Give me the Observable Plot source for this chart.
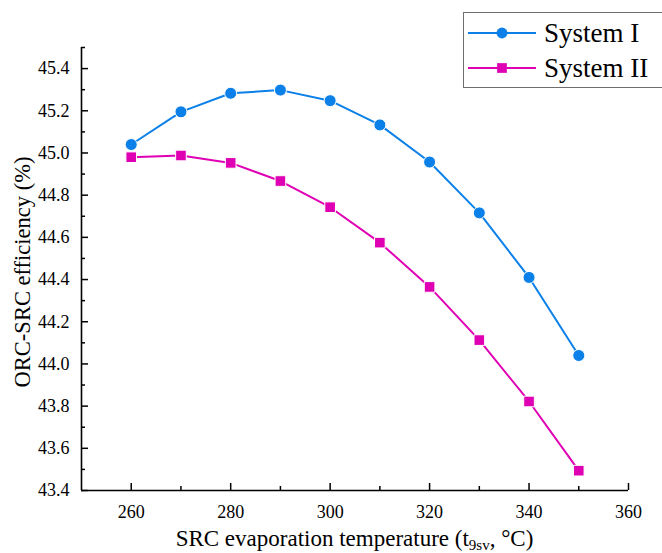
<!DOCTYPE html>
<html>
<head>
<meta charset="utf-8">
<script src="https://cdn.jsdelivr.net/npm/d3@7"></script>
<script src="https://cdn.jsdelivr.net/npm/@observablehq/plot@0.6"></script>
<style>
  html, body { margin: 0; padding: 0; background: #fff; overflow: hidden; }
  #wrap { position: relative; width: 662px; height: 553px; }
  #legend { position: absolute; left: 463px; top: 12px; width: 215px; height: 76px;
            border: 1px solid #6e6e6e; background: #fff; box-sizing: border-box; }
</style>
</head>
<body>
<div id="wrap"></div>
<script>
// ---- data ----
const temps = [260, 270, 280, 290, 300, 310, 320, 330, 340, 350];
const systemI = [45.04, 45.195, 45.283, 45.298, 45.248, 45.133, 44.957, 44.716, 44.41, 44.04];
const systemII = [44.98, 44.988, 44.953, 44.867, 44.743, 44.575, 44.365, 44.113, 43.822, 43.494];
const seriesNames = ["System I", "System II"];
const xMajorTicks = [260, 280, 300, 320, 340, 360];
const xMinorTicks = [270, 290, 310, 330, 350];
const yMajorTicks = [43.4, 43.6, 43.8, 44.0, 44.2, 44.4, 44.6, 44.8, 45.0, 45.2, 45.4];
const yMinorTicks = [43.5, 43.7, 43.9, 44.1, 44.3, 44.5, 44.7, 44.9, 45.1, 45.3, 45.5];
const xDomain = [250, 360];
const yDomain = [43.4, 45.5];
const yTitle = "ORC-SRC efficiency (%)";
const xTitleParts = ["SRC evaporation temperature (t", "9sv", ", °C)"];

// ---- styles ----
const colors = ["#0a80e8", "#e000b4"];
const symbols = ["circle", "square"];
const font = "'Liberation Serif', 'Times New Roman', serif";

const values = [systemI, systemII];
const rows = seriesNames.flatMap((s, k) => temps.map((t, i) => ({series: s, t, v: values[k][i]})));

const W = 662, H = 553;
const mL = 81, mR = 34, mT = 47, mB = 63;

const plot = Plot.plot({
  width: W, height: H,
  marginLeft: mL, marginRight: mR, marginTop: mT, marginBottom: mB,
  x: {domain: xDomain},
  y: {domain: yDomain},
  color: {domain: seriesNames, range: colors},
  symbol: {domain: seriesNames, range: symbols},
  style: {fontFamily: font, fontSize: "18px", color: "#000", background: "#fff"},
  marks: [
    Plot.axisX(xMajorTicks, {tickSize: -7, tickFormat: () => "", label: null, strokeWidth: 1.5}),
    Plot.axisX(xMinorTicks, {tickSize: -4, tickFormat: () => "", label: null, strokeWidth: 1.5}),
    Plot.axisX(xMajorTicks, {tickSize: 0, tickPadding: 15, label: null, fontSize: 18}),
    Plot.axisY(yMajorTicks, {tickSize: -7, tickFormat: () => "", label: null, strokeWidth: 1.5}),
    Plot.axisY(yMinorTicks, {tickSize: -4, tickFormat: () => "", label: null, strokeWidth: 1.5}),
    Plot.axisY(yMajorTicks, {tickSize: 0, tickPadding: 12, tickFormat: d3.format(".1f"), label: null, fontSize: 18}),
    Plot.ruleX([xDomain[0]], {stroke: "#000", strokeWidth: 1.6}),
    Plot.ruleY([yDomain[0]], {stroke: "#000", strokeWidth: 1.6}),
    Plot.line(rows, {x: "t", y: "v", z: "series", stroke: "series", strokeWidth: 2}),
    Plot.dot(rows, {x: "t", y: "v", symbol: "series", fill: "series", stroke: "#fff", strokeWidth: 1, r: 6})
  ]
});

const wrap = document.getElementById("wrap");
wrap.appendChild(plot);

const svg = d3.select(plot);
svg.selectAll("text, g").style("font-family", font);

// axis titles
svg.append("text")
  .attr("transform", `translate(30,272) rotate(-90)`)
  .attr("text-anchor", "middle")
  .style("font-family", font).style("font-size", "22.5px").attr("fill", "#000")
  .text(yTitle);
const xt = svg.append("text")
  .attr("x", (mL + W - mR) / 2).attr("y", 546)
  .attr("text-anchor", "middle")
  .style("font-family", font).style("font-size", "23px").attr("fill", "#000");
xt.append("tspan").text(xTitleParts[0]);
xt.append("tspan").attr("dy", 4).style("font-size", "15px").text(xTitleParts[1]);
xt.append("tspan").attr("dy", -4).text(xTitleParts[2]);

// legend
const leg = document.createElement("div");
leg.id = "legend";
wrap.appendChild(leg);
const ls = d3.select(leg).append("svg").attr("width", 215).attr("height", 76)
  .style("position", "absolute").style("left", "-1px").style("top", "-1px");
seriesNames.forEach((name, k) => {
  const cy = 21 + k * 35;
  const g = ls.append("g");
  g.append("line").attr("x1", 5).attr("x2", 73).attr("y1", cy).attr("y2", cy)
    .attr("stroke", colors[k]).attr("stroke-width", 2);
  g.append("path").attr("transform", `translate(39,${cy})`)
    .attr("d", d3.symbol(k === 0 ? d3.symbolCircle : d3.symbolSquare, Math.PI * 30)())
    .attr("fill", colors[k]);
  g.append("text").attr("x", 81).attr("y", cy + 9)
    .style("font-family", font).style("font-size", "27px").attr("fill", "#000")
    .text(name);
});
</script>
</body>
</html>
